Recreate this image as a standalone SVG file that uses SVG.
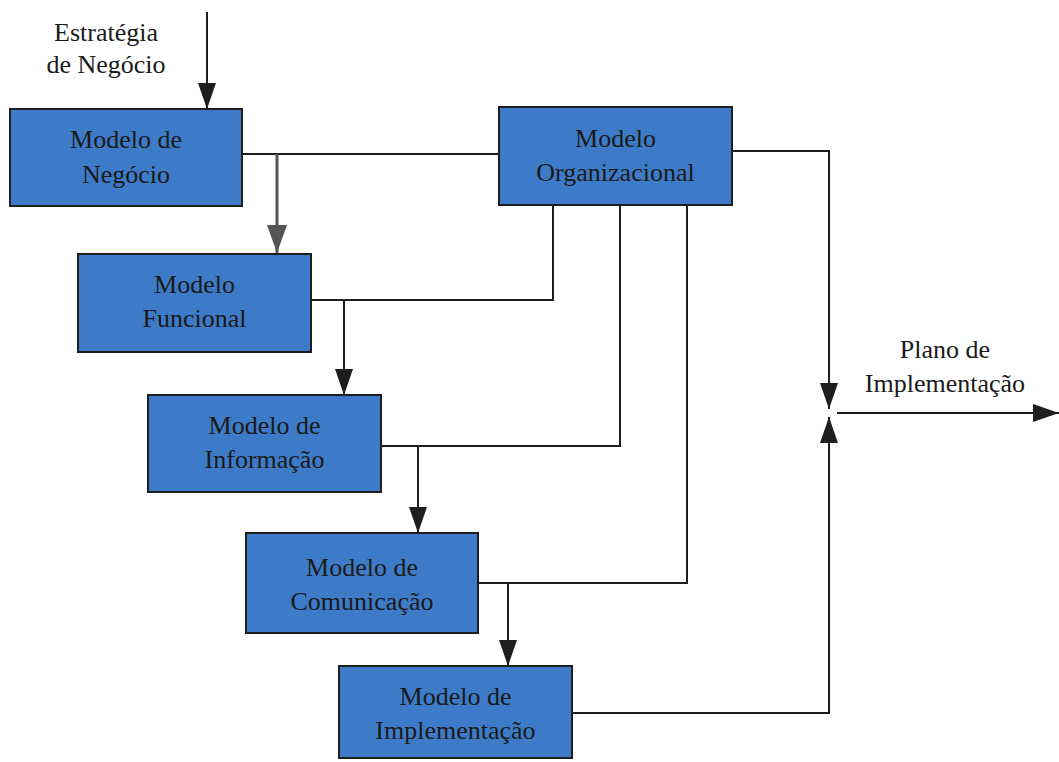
<svg xmlns="http://www.w3.org/2000/svg" width="1059" height="762" viewBox="0 0 1059 762" font-family="Liberation Serif, DejaVu Serif, serif">
<style>
.box{fill:#3d7bc8;stroke:#1e1e1e;stroke-width:2}
.t{font-size:26px;fill:#1a1a1a;text-anchor:middle}
.c{fill:none;stroke:#1e1e1e;stroke-width:2}
.g{fill:none;stroke:#555;stroke-width:3}
</style>
<defs>
<marker id="ah" markerUnits="userSpaceOnUse" markerWidth="26" markerHeight="18" refX="26" refY="9" orient="auto" viewBox="0 0 26 18">
<path d="M0,0 L26,9 L0,18 Z" fill="#1e1e1e"/>
</marker>
<marker id="ahg" markerUnits="userSpaceOnUse" markerWidth="28" markerHeight="20" refX="28" refY="10" orient="auto" viewBox="0 0 28 20">
<path d="M0,0 L28,10 L0,20 Z" fill="#555"/>
</marker>
</defs>
<rect width="1059" height="762" fill="#fff"/>
<g id="connectors">
<line class="c" x1="207" y1="12" x2="207" y2="109" marker-end="url(#ah)"/>
<line class="c" x1="242" y1="154" x2="499" y2="154"/>
<line class="g" x1="277" y1="154" x2="277" y2="253" marker-end="url(#ahg)"/>
<polyline class="c" points="553,205 553,300 311,300"/>
<line class="c" x1="344" y1="300" x2="344" y2="395" marker-end="url(#ah)"/>
<polyline class="c" points="620,205 620,446 381,446"/>
<line class="c" x1="418" y1="446" x2="418" y2="533" marker-end="url(#ah)"/>
<polyline class="c" points="687,205 687,583 478,583"/>
<line class="c" x1="508" y1="583" x2="508" y2="666" marker-end="url(#ah)"/>
<polyline class="c" points="732,151 829,151 829,409" marker-end="url(#ah)"/>
<polyline class="c" points="572,713 829,713 829,417" marker-end="url(#ah)"/>
<line class="c" x1="837" y1="413" x2="1059" y2="413" marker-end="url(#ah)"/>
</g>
<g id="label-estrategia">
<text class="t" x="106" y="41">Estratégia</text>
<text class="t" x="106" y="73">de Negócio</text>
</g>
<g id="label-plano">
<text class="t" x="945" y="358">Plano de</text>
<text class="t" x="945" y="392">Implementação</text>
</g>
<g id="modelo-negocio">
<rect class="box" x="10" y="109" width="232" height="97"/>
<text class="t" x="126" y="148">Modelo de</text>
<text class="t" x="126" y="183">Negócio</text>
</g>
<g id="modelo-organizacional">
<rect class="box" x="499" y="107" width="233" height="98"/>
<text class="t" x="615.5" y="147">Modelo</text>
<text class="t" x="615.5" y="181">Organizacional</text>
</g>
<g id="modelo-funcional">
<rect class="box" x="78" y="254" width="233" height="98"/>
<text class="t" x="194.5" y="293">Modelo</text>
<text class="t" x="194.5" y="327">Funcional</text>
</g>
<g id="modelo-informacao">
<rect class="box" x="148" y="395" width="233" height="97"/>
<text class="t" x="264.5" y="434">Modelo de</text>
<text class="t" x="264.5" y="468">Informação</text>
</g>
<g id="modelo-comunicacao">
<rect class="box" x="246" y="533" width="232" height="100"/>
<text class="t" x="362" y="576">Modelo de</text>
<text class="t" x="362" y="610">Comunicação</text>
</g>
<g id="modelo-implementacao">
<rect class="box" x="339" y="666" width="233" height="92"/>
<text class="t" x="455.5" y="705">Modelo de</text>
<text class="t" x="455.5" y="739">Implementação</text>
</g>
</svg>
